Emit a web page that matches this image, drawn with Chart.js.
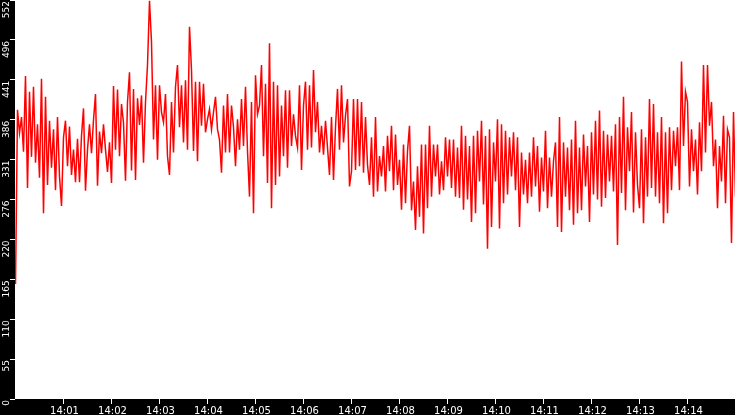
<!DOCTYPE html>
<html>
<head>
<meta charset="utf-8">
<script src="https://cdn.jsdelivr.net/npm/chart.js@4.4.1/dist/chart.umd.min.js"></script>
<style>
    html, body { margin: 0; padding: 0; background: #000; }
    #wrap { width: 735px; height: 415px; }
</style>
</head>
<body>
<div id="wrap"><canvas id="chart" width="735" height="415"></canvas></div>
<script>
// Valores, un arreglo por minuto (24 muestras, una cada 2.5 s desde las 14:00:00)
var min00 = [159, 400, 368, 390, 342, 447, 292, 425, 335, 432, 327, 380, 306, 443, 257, 418, 296, 385, 320, 373, 289, 390, 308, 267];
var min01 = [362, 385, 322, 377, 310, 345, 300, 360, 300, 364, 402, 288, 345, 380, 340, 386, 422, 295, 370, 340, 380, 345, 314, 355];
var min02 = [299, 433, 345, 428, 336, 408, 382, 302, 411, 452, 316, 429, 303, 416, 379, 420, 327, 411, 462, 551, 494, 359, 434, 331];
var min03 = [434, 397, 383, 422, 336, 310, 411, 341, 432, 462, 376, 434, 355, 441, 345, 515, 455, 343, 439, 329, 439, 378, 436, 369];
var min04 = [387, 401, 373, 397, 418, 373, 359, 313, 406, 341, 422, 341, 406, 376, 322, 387, 345, 415, 350, 432, 343, 280, 411, 257];
var min05 = [448, 394, 406, 462, 336, 436, 299, 492, 264, 439, 296, 434, 308, 406, 336, 427, 320, 427, 350, 394, 364, 348, 434, 317];
var min06 = [406, 439, 345, 434, 348, 455, 369, 411, 341, 378, 338, 385, 348, 310, 390, 303, 376, 429, 345, 434, 355, 392, 415, 294];
var min07 = [315, 415, 317, 415, 322, 411, 313, 390, 324, 296, 362, 280, 390, 287, 336, 308, 350, 287, 364, 315, 378, 289, 366, 296];
var min08 = [331, 262, 352, 271, 343, 378, 261, 301, 234, 322, 252, 352, 229, 352, 264, 378, 280, 352, 308, 352, 283, 329, 289, 362];
var min09 = [308, 359, 292, 359, 280, 348, 278, 378, 262, 364, 276, 350, 245, 364, 257, 371, 301, 385, 269, 364, 208, 373, 238, 355];
var min10 = [301, 387, 236, 380, 271, 371, 283, 362, 308, 369, 289, 362, 238, 341, 283, 331, 271, 341, 280, 362, 294, 350, 259, 334];
var min11 = [287, 371, 264, 334, 280, 329, 355, 238, 390, 231, 355, 280, 348, 261, 359, 241, 385, 257, 348, 261, 366, 294, 350, 245];
var min12 = [369, 283, 385, 276, 399, 266, 371, 278, 366, 301, 364, 287, 380, 213, 390, 285, 418, 261, 376, 315, 397, 258, 369, 296];
var min13 = [264, 373, 243, 362, 280, 415, 292, 408, 280, 369, 271, 390, 243, 369, 257, 376, 289, 371, 322, 376, 289, 467, 350, 425];
var min14 = [411, 294, 373, 315, 359, 283, 383, 315, 462, 341, 462, 378, 411, 322, 359, 264, 350, 301, 392, 271, 373, 362, 216, 397];
var lastValue = 280;

var timeLabels = ['14:01', '14:02', '14:03', '14:04', '14:05', '14:06', '14:07',
                  '14:08', '14:09', '14:10', '14:11', '14:12', '14:13', '14:14'];
var yLabels = ['0', '55', '110', '165', '220', '276', '331', '386', '441', '496', '552'];
var yMax = 552;

// juntar los minutos en una sola serie (x en segundos desde 14:00:00)
var minutes = [min00, min01, min02, min03, min04, min05, min06, min07,
               min08, min09, min10, min11, min12, min13, min14];
var values = [].concat.apply([], minutes).concat([lastValue]);
var step = 60 / min00.length;
var points = values.map(function(v, i) {
    return {x: i * step, y: v};
});

// medio pixel de corrimiento para que las lineas queden nitidas
var halfPixel = 0.625;

// fondo blanco solo dentro del area del grafico
var plotBackground = {
    id: 'plotBackground',
    beforeDraw: function(chart) {
        var ctx = chart.ctx;
        var a = chart.chartArea;
        ctx.save();
        ctx.fillStyle = '#000';
        ctx.fillRect(0, 0, chart.width, chart.height);
        ctx.fillStyle = '#fff';
        ctx.fillRect(a.left, a.top, a.right - a.left, a.bottom - a.top);
        ctx.restore();
    }
};

var ctx = document.getElementById('chart').getContext('2d');
new Chart(ctx, {
    type: 'line',
    data: {
        datasets: [{
            data: points,
            borderColor: 'rgb(255, 0, 0)',
            borderWidth: 1.5,
            pointRadius: 0,
            tension: 0,
            fill: false
        }]
    },
    options: {
        responsive: false,
        animation: false,
        devicePixelRatio: 1,
        layout: { padding: 0, autoPadding: false },
        plugins: {
            legend: { display: false },
            tooltip: { enabled: false }
        },
        scales: {
            x: {
                type: 'linear',
                min: -halfPixel,
                max: 900 - halfPixel,
                afterBuildTicks: function(scale) {
                    scale.ticks = timeLabels.map(function(l) {
                        return {value: parseInt(l.slice(3), 10) * 60};
                    });
                },
                afterFit: function(scale) {
                    scale.height = 16;
                    scale.paddingLeft = 0;
                    scale.paddingRight = 0;
                },
                ticks: {
                    color: '#fff',
                    font: { family: 'DejaVu Sans', size: 10 },
                    padding: 1,
                    maxRotation: 0,
                    autoSkip: false,
                    labelOffset: 1,
                    callback: function(value, index) {
                        return timeLabels[index];
                    }
                },
                grid: { drawOnChartArea: false, tickColor: '#fff', tickLength: 5 },
                border: { display: false }
            },
            y: {
                min: 0,
                max: yMax,
                afterBuildTicks: function(scale) {
                    scale.ticks = yLabels.map(function(l, i) {
                        return {value: yMax * i / (yLabels.length - 1)};
                    });
                },
                afterFit: function(scale) {
                    scale.width = 15;
                    scale.paddingTop = 0;
                    scale.paddingBottom = 0;
                },
                ticks: {
                    color: '#fff',
                    font: { family: 'DejaVu Sans', size: 9 },
                    padding: 3,
                    minRotation: 90,
                    maxRotation: 90,
                    labelOffset: 1,
                    callback: function(value, index) {
                        return yLabels[index];
                    }
                },
                grid: { drawOnChartArea: false, tickColor: '#fff', tickLength: 5 },
                border: { display: false }
            }
        }
    },
    plugins: [plotBackground]
});
</script>
</body>
</html>
